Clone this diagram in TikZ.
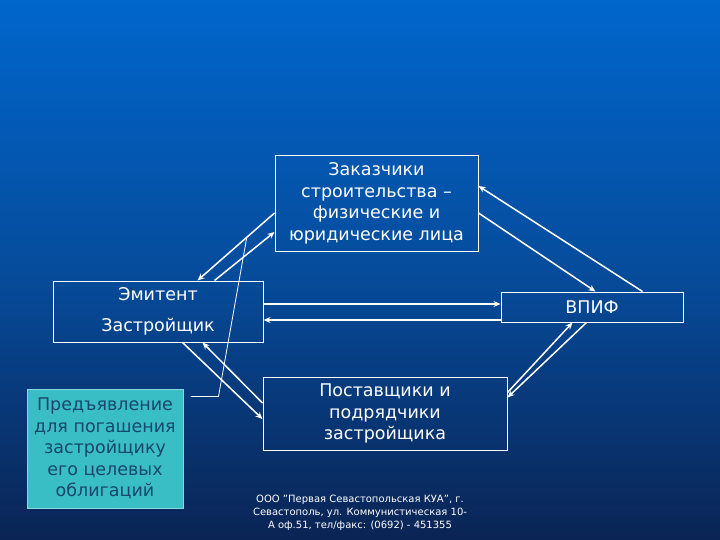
\documentclass[tikz,border=0pt]{standalone}
\usepackage{fontspec}
\setmainfont{DejaVu Sans}
\usepackage{tikz}
\usetikzlibrary{positioning,arrows.meta}

\definecolor{bgtop}{RGB}{0,102,204}
\definecolor{bgmid}{RGB}{6,76,156}
\definecolor{bgbot}{RGB}{10,36,84}
\definecolor{tealfill}{RGB}{58,190,198}
\definecolor{tealtext}{RGB}{24,70,110}

\begin{document}
\begin{tikzpicture}[x=1pt,y=-1pt,
		box/.style={draw=white, line width=1pt, text=white, align=center,
			font=\fontsize{17.5}{21.5}\selectfont, inner sep=0pt},
		link/.style={white, line width=1.5pt, -{Stealth[length=7pt,width=6pt]}},
		hint/.style={white, line width=0.8pt}]
		\shade[top color=bgtop, bottom color=bgbot, middle color=bgmid] (0,0) rectangle (720,540);
		\useasboundingbox (0,0) rectangle (720,540);

		\node(Z)[box, minimum width=203pt, minimum height=95pt] at (376.5,203.5)
			{Заказчики\\строительства --\\физические и\\юридические лица};
		\node(E)[box, minimum width=210pt, minimum height=61pt] at (158,311.5)
			{Эмитент\\[10pt]Застройщик};
		\node(V)[box, minimum width=182pt, minimum height=30pt] at (592,307){ВПИФ};
		\node(P)[box, minimum width=244pt, minimum height=73pt] at (385,413.5)
			{Поставщики и\\подрядчики\\застройщика};
		\node(T)[box, draw=tealfill!60!white, fill=tealfill, text=tealtext,
			minimum width=156pt, minimum height=119pt] at (105,448.5)
			{Предъявление\\для погашения\\застройщику\\его целевых\\облигаций};
		\node(K)[text=white, align=center, font=\fontsize{10}{13}\selectfont] at (360,513)
			{ООО "Первая Севастопольская КУА", г.\\Севастополь, ул. Коммунистическая 10-\\А оф.51, тел/факс: (0692) - 451355};

		\draw[link] ([yshift=-9.5pt]Z.west) -- coordinate[pos=0.36](H) ([xshift=145pt]E.north west);
		\draw[link] ([xshift=162pt]E.north west) -- ([yshift=-28.5pt]Z.west);
		\draw[link] ([xshift=142pt]V.north west) -- ([yshift=17.5pt]Z.east);
		\draw[link] ([yshift=-9.5pt]Z.east) -- ([xshift=95pt]V.north west);
		\draw[link] ([yshift=7.5pt]E.east) -- ([yshift=3pt]V.west);
		\draw[link] ([yshift=-13pt]V.west) -- ([yshift=-8.5pt]E.east);
		\draw[link] ([yshift=-16pt]P.north east) -- ([xshift=72pt]V.south west);
		\draw[link] ([xshift=86pt]V.south west) -- ([yshift=-21pt]P.north east);
		\draw[link] ([xshift=130pt]E.south west) -- ([yshift=-5.5pt]P.west);
		\draw[link] ([yshift=10.5pt]P.west) -- ([xshift=150pt]E.south west);

		\draw[hint] ([xshift=7pt,yshift=-8pt]T.north east) -- ++(28,0) -- (H);
	\end{tikzpicture}
\end{document}
